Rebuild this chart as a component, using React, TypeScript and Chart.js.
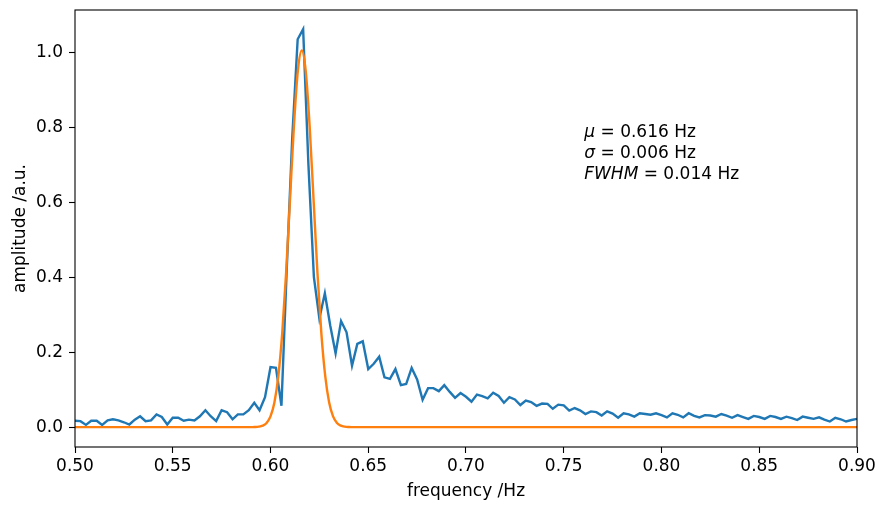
import { useEffect, useRef } from "react";
import { Chart, registerables } from "chart.js";

Chart.register(...registerables);

// Measured spectrum: frequency bins (Hz) and amplitude (a.u.)
const FREQUENCY = [
  0.5000, 0.5028, 0.5056, 0.5083, 0.5111, 0.5139, 0.5167, 0.5194, 0.5222, 0.5250,
  0.5278, 0.5306, 0.5333, 0.5361, 0.5389, 0.5417, 0.5444, 0.5472, 0.5500, 0.5528,
  0.5556, 0.5583, 0.5611, 0.5639, 0.5667, 0.5694, 0.5722, 0.5750, 0.5778, 0.5806,
  0.5833, 0.5861, 0.5889, 0.5917, 0.5944, 0.5972, 0.6000, 0.6028, 0.6056, 0.6083,
  0.6111, 0.6139, 0.6167, 0.6194, 0.6222, 0.6250, 0.6278, 0.6306, 0.6333, 0.6361,
  0.6389, 0.6417, 0.6444, 0.6472, 0.6500, 0.6528, 0.6556, 0.6583, 0.6611, 0.6639,
  0.6667, 0.6694, 0.6722, 0.6750, 0.6778, 0.6806, 0.6833, 0.6861, 0.6889, 0.6917,
  0.6944, 0.6972, 0.7000, 0.7028, 0.7056, 0.7083, 0.7111, 0.7139, 0.7167, 0.7194,
  0.7222, 0.7250, 0.7278, 0.7306, 0.7333, 0.7361, 0.7389, 0.7417, 0.7444, 0.7472,
  0.7500, 0.7528, 0.7556, 0.7583, 0.7611, 0.7639, 0.7667, 0.7694, 0.7722, 0.7750,
  0.7778, 0.7806, 0.7833, 0.7861, 0.7889, 0.7917, 0.7944, 0.7972, 0.8000, 0.8028,
  0.8056, 0.8083, 0.8111, 0.8139, 0.8167, 0.8194, 0.8222, 0.8250, 0.8278, 0.8306,
  0.8333, 0.8361, 0.8389, 0.8417, 0.8444, 0.8472, 0.8500, 0.8528, 0.8556, 0.8583,
  0.8611, 0.8639, 0.8667, 0.8694, 0.8722, 0.8750, 0.8778, 0.8806, 0.8833, 0.8861,
  0.8889, 0.8917, 0.8944, 0.8972, 0.9000,
];

const AMPLITUDE = [
  0.017, 0.016, 0.006, 0.017, 0.017, 0.006, 0.018, 0.021, 0.018, 0.013,
  0.007, 0.020, 0.029, 0.016, 0.018, 0.034, 0.027, 0.007, 0.025, 0.025,
  0.017, 0.020, 0.018, 0.029, 0.045, 0.029, 0.016, 0.045, 0.040, 0.021,
  0.034, 0.034, 0.045, 0.065, 0.045, 0.080, 0.160, 0.158, 0.057, 0.420,
  0.770, 1.035, 1.062, 0.700, 0.400, 0.290, 0.357, 0.270, 0.197, 0.283,
  0.253, 0.164, 0.222, 0.229, 0.155, 0.169, 0.188, 0.133, 0.129, 0.155,
  0.112, 0.115, 0.158, 0.127, 0.073, 0.104, 0.104, 0.096, 0.112, 0.094,
  0.078, 0.091, 0.081, 0.068, 0.087, 0.083, 0.077, 0.092, 0.083, 0.065,
  0.080, 0.074, 0.059, 0.071, 0.067, 0.057, 0.063, 0.062, 0.049, 0.060,
  0.058, 0.044, 0.051, 0.045, 0.035, 0.042, 0.040, 0.031, 0.042, 0.036,
  0.025, 0.037, 0.034, 0.028, 0.037, 0.035, 0.033, 0.037, 0.032, 0.026,
  0.037, 0.033, 0.026, 0.037, 0.030, 0.026, 0.032, 0.031, 0.028, 0.035,
  0.031, 0.025, 0.032, 0.027, 0.022, 0.030, 0.027, 0.022, 0.030, 0.027,
  0.022, 0.028, 0.024, 0.019, 0.028, 0.025, 0.022, 0.026, 0.020, 0.015,
  0.025, 0.021, 0.015, 0.019, 0.022,
];

// Fitted Gaussian curve
const FIT_FREQUENCY = [
  0.500, 0.588, 0.590, 0.592, 0.594, 0.596, 0.598, 0.600, 0.602, 0.604,
  0.606, 0.608, 0.610, 0.612, 0.614, 0.616, 0.618, 0.620, 0.622, 0.624,
  0.626, 0.628, 0.630, 0.632, 0.634, 0.636, 0.638, 0.640, 0.642, 0.644, 0.900,
];
const FIT_AMPLITUDE = [
  0, 0, 0.0001, 0.0003, 0.0012, 0.0039, 0.0112, 0.0287, 0.066, 0.136,
  0.251, 0.413, 0.610, 0.805, 0.951, 1.005, 0.951, 0.805, 0.610, 0.413,
  0.251, 0.136, 0.066, 0.0287, 0.0112, 0.0039, 0.0012, 0.0003, 0.0001, 0, 0,
];

const X_TICKS = [0.5, 0.55, 0.6, 0.65, 0.7, 0.75, 0.8, 0.85, 0.9];
const Y_TICKS = [0, 0.2, 0.4, 0.6, 0.8, 1.0];

const X_LABEL = "frequency /Hz";
const Y_LABEL = "amplitude /a.u.";

const ANNOTATION_LINES = [
  { symbol: "μ", rest: " = 0.616 Hz" },
  { symbol: "σ", rest: " = 0.006 Hz" },
  { symbol: "FWHM", rest: " = 0.014 Hz" },
];
const ANNOTATION_X = 0.7605;
const ANNOTATION_Y = 0.787;

const FONT = '"DejaVu Sans", sans-serif';
const FONT_SIZE = 17;

const boxPlugin = {
  id: "boxPlugin",
  afterDraw(chart: any) {
    const { ctx, chartArea } = chart;
    const { left, top, right, bottom } = chartArea;
    ctx.save();
    ctx.strokeStyle = "#000";
    ctx.lineWidth = 1.1;
    ctx.strokeRect(left, top, right - left, bottom - top);
    ctx.restore();
  },
};

const annotationPlugin = {
  id: "annotationPlugin",
  afterDraw(chart: any) {
    const { ctx, scales } = chart;
    const x0 = scales.x.getPixelForValue(ANNOTATION_X);
    const y0 = scales.y.getPixelForValue(ANNOTATION_Y);
    const lineGap = 21;
    ctx.save();
    ctx.fillStyle = "#000";
    ctx.textBaseline = "middle";
    ctx.textAlign = "left";
    ANNOTATION_LINES.forEach((line, i) => {
      const y = y0 + i * lineGap;
      ctx.font = `italic ${FONT_SIZE}px ${FONT}`;
      ctx.fillText(line.symbol, x0, y);
      const w = ctx.measureText(line.symbol).width;
      ctx.font = `${FONT_SIZE}px ${FONT}`;
      ctx.fillText(line.rest, x0 + w, y);
    });
    ctx.restore();
  },
};

export default function App() {
  const canvasRef = useRef<HTMLCanvasElement | null>(null);

  useEffect(() => {
    if (!canvasRef.current) return;
    const spectrum = FREQUENCY.map((f, i) => ({ x: f, y: AMPLITUDE[i] }));
    const fit = FIT_FREQUENCY.map((f, i) => ({ x: f, y: FIT_AMPLITUDE[i] }));

    const chart = new Chart(canvasRef.current, {
      type: "line",
      data: {
        datasets: [
          {
            label: "spectrum",
            data: spectrum,
            borderColor: "#1f77b4",
            borderWidth: 2.4,
            pointRadius: 0,
            tension: 0,
            fill: false,
            order: 2,
          },
          {
            label: "fit",
            data: fit,
            borderColor: "#ff7f0e",
            borderWidth: 2.4,
            pointRadius: 0,
            cubicInterpolationMode: "monotone",
            fill: false,
            order: 1,
          },
        ],
      },
      options: {
        responsive: false,
        animation: false,
        events: [],
        layout: { padding: { left: 0, right: 22, top: 10, bottom: 0 } },
        plugins: {
          legend: { display: false },
          tooltip: { enabled: false },
          title: { display: false },
        },
        scales: {
          x: {
            type: "linear",
            min: 0.5,
            max: 0.9,
            afterBuildTicks: (scale: any) => {
              scale.ticks = X_TICKS.map((v) => ({ value: v }));
            },
            afterFit: (scale: any) => {
              scale.height = 59;
              scale.paddingLeft = 0;
              scale.paddingRight = 0;
            },
            border: { display: false },
            grid: {
              display: true,
              drawOnChartArea: false,
              drawTicks: true,
              tickLength: 6,
              tickColor: "#000",
              tickWidth: 1.1,
            },
            ticks: {
              color: "#000",
              font: { family: FONT, size: FONT_SIZE },
              padding: 3,
              maxRotation: 0,
              autoSkip: false,
              callback: (v: any) => Number(v).toFixed(2),
            },
            title: {
              display: true,
              text: X_LABEL,
              color: "#000",
              font: { family: FONT, size: FONT_SIZE },
              padding: { top: 0, bottom: 4 },
            },
          },
          y: {
            type: "linear",
            min: -0.053,
            max: 1.113,
            afterBuildTicks: (scale: any) => {
              scale.ticks = Y_TICKS.map((v) => ({ value: v }));
            },
            afterFit: (scale: any) => {
              scale.width = 75;
              scale.paddingTop = 0;
              scale.paddingBottom = 0;
            },
            border: { display: false },
            grid: {
              display: true,
              drawOnChartArea: false,
              drawTicks: true,
              tickLength: 6,
              tickColor: "#000",
              tickWidth: 1.1,
            },
            ticks: {
              color: "#000",
              font: { family: FONT, size: FONT_SIZE },
              padding: 6,
              autoSkip: false,
              callback: (v: any) => Number(v).toFixed(1),
            },
            title: {
              display: true,
              text: Y_LABEL,
              color: "#000",
              font: { family: FONT, size: FONT_SIZE },
              padding: { top: 10, bottom: 0 },
            },
          },
        },
      },
      plugins: [boxPlugin, annotationPlugin],
    });

    return () => {
      chart.destroy();
    };
  }, []);

  return (
    <div style={{ position: "fixed", left: 0, top: 0, width: 879, height: 506, background: "#fff" }}>
      <canvas ref={canvasRef} width={879} height={506} style={{ display: "block" }} />
    </div>
  );
}
